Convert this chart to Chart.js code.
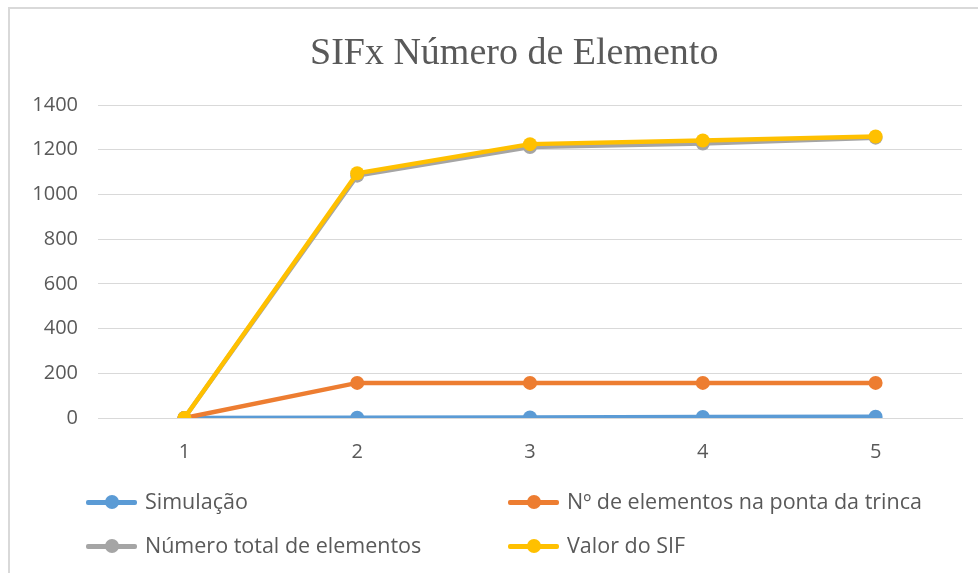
<!DOCTYPE html>
<html>
<head>
<meta charset="utf-8">
<script src="https://cdn.jsdelivr.net/npm/chart.js@4/dist/chart.umd.min.js"></script>
<style>
  html, body { margin: 0; padding: 0; background: #fff; }
  #wrap { position: relative; width: 978px; height: 573px; overflow: hidden; }
  #frame { position: absolute; left: 8px; top: 7px; width: 980px; height: 580px;
           border-left: 2px solid #d9d9d9; border-top: 2px solid #d9d9d9; box-sizing: border-box; }
  canvas { position: absolute; left: 0; top: 0; }
  #titulo { position: absolute; left: 310px; top: 28px; width: 400px; text-align: center; white-space: nowrap;
            font-family: "Liberation Serif", "Times New Roman", serif; font-size: 38px; color: #595959; line-height: 46px; }
  .lg { position: absolute; font-family: "Open Sans", sans-serif; font-size: 21.5px; color: #595959; white-space: nowrap; }
  .lg .ln { position: absolute; left: 0; top: -2.5px; width: 51px; height: 5px; border-radius: 2px; }
  .lg .dot { position: absolute; left: 19px; top: -7px; width: 14px; height: 14px; border-radius: 50%; }
  .lg .tx { position: absolute; left: 59px; top: -15px; line-height: 28px; }
</style>
</head>
<body>
<div id="wrap">
  <div id="frame"></div>
  <canvas id="sifChart" width="978" height="573"></canvas>
  <div id="titulo">SIFx Número de Elemento</div>
  <div id="legend"></div>
</div>
<script>
// dados do gráfico
const categorias = ['1', '2', '3', '4', '5'];
const simulacao = [0, 1, 2, 5, 6];
const elemPonta = [0, 157, 157, 157, 157];
const totalElem = [0, 1084, 1212, 1228, 1254];
const valorSIF = [0, 1095, 1225, 1241, 1259];
const ticksY = [0, 200, 400, 600, 800, 1000, 1200, 1400];

const nomes = ['Simulação', 'Nº de elementos na ponta da trinca', 'Número total de elementos', 'Valor do SIF'];
const cores = ['#5B9BD5', '#ED7D31', '#A5A5A5', '#FFC000'];
const series = [simulacao, elemPonta, totalElem, valorSIF];

const txt = '#595959';
const grade = '#d9d9d9';
const fonte = { family: '"Open Sans", sans-serif', size: 20 };

const ctx = document.getElementById('sifChart').getContext('2d');
new Chart(ctx, {
  type: 'line',
  data: {
    labels: categorias,
    datasets: series.map((d, i) => ({
      label: nomes[i],
      data: d,
      borderColor: cores[i],
      backgroundColor: cores[i],
      borderWidth: 4.5,
      pointRadius: 7,
      pointHoverRadius: 7,
      pointBorderWidth: 0,
      tension: 0,
      order: 4 - i
    }))
  },
  options: {
    responsive: false,
    animation: false,
    layout: { padding: { left: 29, right: 16, top: 105, bottom: 87 } },
    plugins: {
      legend: { display: false },
      tooltip: { enabled: false },
      title: { display: false }
    },
    scales: {
      x: {
        offset: true,
        grid: { display: false, drawTicks: false },
        border: { color: grade, width: 1 },
        ticks: { color: txt, padding: 22, font: fonte }
      },
      y: {
        min: 0,
        max: 1400,
        afterBuildTicks: s => { s.ticks = ticksY.map(v => ({ value: v })); },
        afterFit: s => { s.width = 69; },
        grid: { color: grade, lineWidth: 1, drawTicks: false },
        border: { display: false },
        ticks: { color: txt, padding: 20, font: fonte, callback: v => String(v) }
      }
    }
  }
});

// legenda em HTML, duas colunas
const posLeg = [[86, 502], [508, 502], [86, 546], [508, 546]];
const leg = document.getElementById('legend');
nomes.forEach((n, i) => {
  const el = document.createElement('div');
  el.className = 'lg';
  el.style.left = posLeg[i][0] + 'px';
  el.style.top = posLeg[i][1] + 'px';
  el.innerHTML = `<div class="ln" style="background:${cores[i]}"></div>` +
                 `<div class="dot" style="background:${cores[i]}"></div>` +
                 `<div class="tx">${n}</div>`;
  leg.appendChild(el);
});
</script>
</body>
</html>
